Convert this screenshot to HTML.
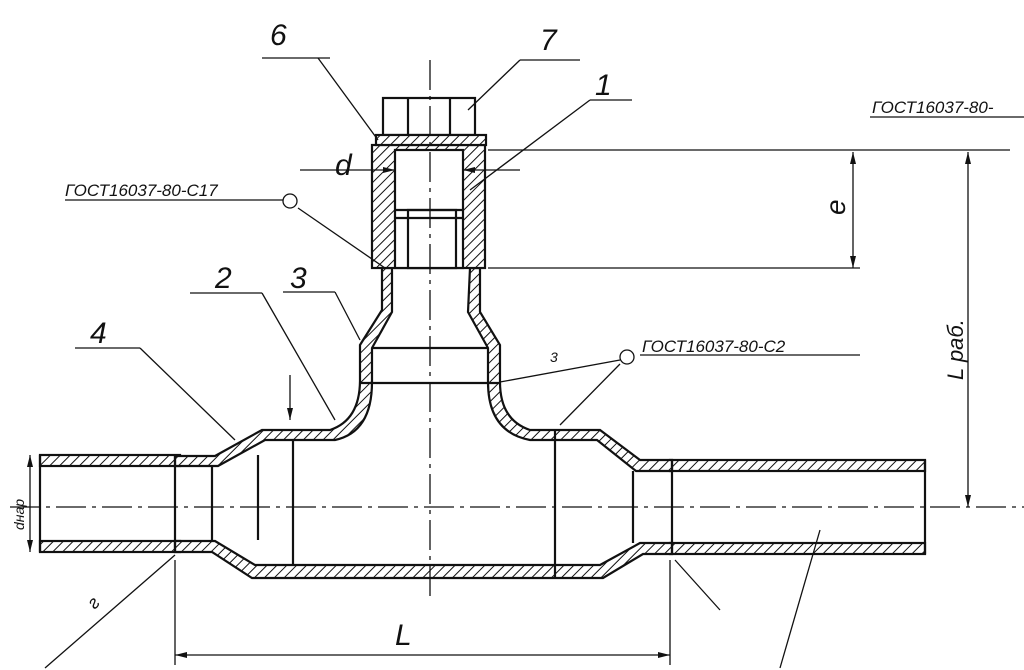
<!DOCTYPE html>
<html><head><meta charset="utf-8"><style>
html,body{margin:0;padding:0;background:#fff;width:1024px;height:670px;overflow:hidden}
svg text{font-family:"Liberation Sans",sans-serif;font-style:italic;fill:#111}
</style></head><body>
<svg width="1024" height="670" viewBox="0 0 1024 670" xmlns="http://www.w3.org/2000/svg">
<defs>
<pattern id="h" width="7" height="7" patternUnits="userSpaceOnUse" patternTransform="rotate(45)">
<rect width="7" height="7" fill="#fff"/><line x1="0" y1="0" x2="0" y2="7" stroke="#111" stroke-width="2"/>
</pattern>
<marker id="a" markerWidth="12" markerHeight="8" refX="12" refY="4" orient="auto-start-reverse" markerUnits="userSpaceOnUse"><path d="M0 1 L12 4 L0 7 Z" fill="#111"/></marker>
</defs>
<g stroke="#111" stroke-width="2.2" fill="none">
<rect x="40" y="455" width="140" height="11" fill="url(#h)"/>
<rect x="40" y="541" width="140" height="11" fill="url(#h)"/>
<line x1="40" y1="455" x2="40" y2="552"/>
<rect x="670" y="460" width="255" height="11" fill="url(#h)"/>
<rect x="670" y="543" width="255" height="11" fill="url(#h)"/>
<line x1="925" y1="460" x2="925" y2="554"/>
<path d="M175 456 L215 456 L262 430 L330 430 Q360 420 360 380 L360 345 L382 310 L382 268 L392 268 L392 312 L372 348 L372 382 Q372 432 335 440 L265 440 L218 466 L175 466 Z" fill="url(#h)"/>
<path d="M470 268 L480 268 L480 312 L500 345 L500 382 Q500 420 530 430 L600 430 L640 460 L672 460 L672 471 L636 471 L597 440 L530 440 Q488 432 488 382 L488 348 L468 312 Z" fill="url(#h)"/>
<path d="M175 541 L215 541 L255 565 L600 565 L640 543 L672 543 L672 554 L643 554 L603 578 L252 578 L212 552 L175 552 Z" fill="url(#h)"/>
<line x1="175" y1="456" x2="175" y2="552"/>
<line x1="672" y1="460" x2="672" y2="554"/>
<line x1="212" y1="466" x2="212" y2="541"/>
<line x1="633" y1="471" x2="633" y2="543"/>
<line x1="258" y1="455" x2="258" y2="540"/>
<line x1="293" y1="440" x2="293" y2="565"/>
<line x1="555" y1="430" x2="555" y2="578"/>
<line x1="372" y1="348" x2="488" y2="348"/>
<line x1="360" y1="383" x2="500" y2="383"/>
<rect x="372" y="145" width="113" height="123" fill="url(#h)"/>
<rect x="395" y="150" width="68" height="118" fill="#fff"/>
<rect x="408" y="210" width="48" height="58" fill="#fff"/>
<line x1="395" y1="210" x2="463" y2="210"/>
<line x1="395" y1="218" x2="463" y2="218"/>
<rect x="383" y="98" width="92" height="37" fill="#fff"/>
<line x1="408" y1="98" x2="408" y2="135"/><line x1="450" y1="98" x2="450" y2="135"/>
<rect x="376" y="135" width="110" height="10" fill="url(#h)"/>
<line x1="10" y1="507" x2="1024" y2="507" stroke-width="1.3" stroke-dasharray="30 6 4 6"/>
<line x1="430" y1="60" x2="430" y2="600" stroke-width="1.3" stroke-dasharray="30 6 4 6"/>
<line x1="175" y1="560" x2="175" y2="665" stroke-width="1.3"/>
<line x1="670" y1="560" x2="670" y2="665" stroke-width="1.3"/>
<line x1="175" y1="655" x2="670" y2="655" stroke-width="1.3" marker-start="url(#a)" marker-end="url(#a)"/>
<line x1="488" y1="150" x2="1010" y2="150" stroke-width="1.3"/>
<line x1="488" y1="268" x2="860" y2="268" stroke-width="1.3"/>
<line x1="853" y1="152" x2="853" y2="268" stroke-width="1.3" marker-start="url(#a)" marker-end="url(#a)"/>
<line x1="968" y1="152" x2="968" y2="507" stroke-width="1.3" marker-start="url(#a)" marker-end="url(#a)"/>
<line x1="30" y1="455" x2="30" y2="552" stroke-width="1.3" marker-start="url(#a)" marker-end="url(#a)"/>
<line x1="300" y1="170" x2="395" y2="170" stroke-width="1.3" marker-end="url(#a)"/>
<line x1="520" y1="170" x2="463" y2="170" stroke-width="1.3" marker-end="url(#a)"/>
<g stroke-width="1.3">
<line x1="262" y1="58" x2="330" y2="58"/><line x1="318" y1="58" x2="378" y2="140"/>
<line x1="520" y1="60" x2="580" y2="60"/><line x1="520" y1="60" x2="468" y2="110"/>
<line x1="590" y1="100" x2="632" y2="100"/><line x1="590" y1="100" x2="470" y2="190"/>
<line x1="65" y1="200" x2="285" y2="200"/><line x1="298" y1="208" x2="385" y2="268"/>
<circle cx="290" cy="201" r="7" fill="#fff"/>
<line x1="190" y1="293" x2="262" y2="293"/><line x1="262" y1="293" x2="335" y2="420"/>
<line x1="283" y1="292" x2="335" y2="292"/><line x1="335" y1="292" x2="360" y2="340"/>
<line x1="75" y1="348" x2="140" y2="348"/><line x1="140" y1="348" x2="235" y2="440"/>
<line x1="640" y1="355" x2="860" y2="355"/><circle cx="627" cy="357" r="7" fill="#fff"/>
<line x1="620" y1="360" x2="500" y2="382"/><line x1="620" y1="364" x2="560" y2="425"/>
<line x1="870" y1="117" x2="1024" y2="117"/>
<line x1="175" y1="555" x2="45" y2="668"/>
<line x1="675" y1="560" x2="720" y2="610"/>
<line x1="820" y1="530" x2="780" y2="668"/>
<line x1="290" y1="375" x2="290" y2="420" marker-end="url(#a)"/>
</g>
</g>
<g font-size="30">
<text x="270" y="45">6</text><text x="540" y="50">7</text><text x="595" y="95">1</text>
<text x="335" y="175">d</text><text x="215" y="288">2</text><text x="290" y="288">3</text>
<text x="90" y="343">4</text><text x="395" y="645">L</text>
</g>
<g font-size="17">
<text x="65" y="196">ГОСТ16037-80-С17</text>
<text x="642" y="352">ГОСТ16037-80-С2</text>
<text x="872" y="113">ГОСТ16037-80-</text>
<text x="550" y="362" font-size="14">3</text>
</g>
<text transform="translate(845,215) rotate(-90)" font-size="28">e</text>
<text transform="translate(963,380) rotate(-90)" font-size="22">L раб.</text>
<text transform="translate(24,530) rotate(-90)" font-size="14">dнар</text>
<text transform="translate(95,610) rotate(-50)" font-size="18">г</text>
</svg>
</body></html>
